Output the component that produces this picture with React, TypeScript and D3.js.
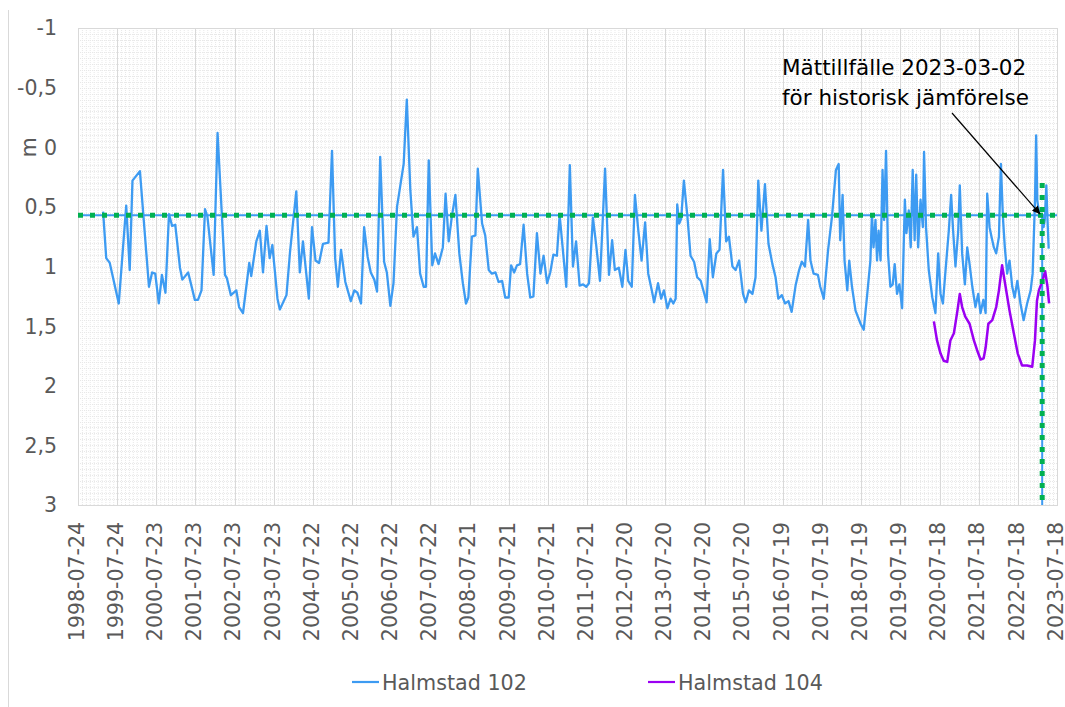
import React, { useEffect, useRef } from "react";
import * as d3 from "d3";

// y axis (metres below reference, reversed)
const yTicks = [-1, -0.5, 0, 0.5, 1, 1.5, 2, 2.5, 3];
const yTickLabels = ["-1", "-0,5", "0", "0,5", "1", "1,5", "2", "2,5", "3"];

// x axis tick dates (365-day steps)
const xTickLabels = [
  "1998-07-24", "1999-07-24", "2000-07-23", "2001-07-23", "2002-07-23",
  "2003-07-23", "2004-07-22", "2005-07-22", "2006-07-22", "2007-07-22",
  "2008-07-21", "2009-07-21", "2010-07-21", "2011-07-21", "2012-07-20",
  "2013-07-20", "2014-07-20", "2015-07-20", "2016-07-19", "2017-07-19",
  "2018-07-19", "2019-07-19", "2020-07-18", "2021-07-18", "2022-07-18",
  "2023-07-18",
];

const seriesNames = ["Halmstad 102", "Halmstad 104"];

// [decimal year, level in m]
const halmstad102: [number, number][] = [
  [1999.2, 0.54], [1999.28, 0.93], [1999.37, 0.97], [1999.6, 1.31], [1999.79, 0.49],
  [1999.88, 1.03], [1999.95, 0.28], [2000.14, 0.2], [2000.37, 1.17], [2000.45, 1.05],
  [2000.53, 1.06], [2000.62, 1.31], [2000.7, 1.07], [2000.79, 1.22], [2000.88, 0.56],
  [2000.96, 0.66], [2001.04, 0.65], [2001.16, 1.01], [2001.22, 1.11], [2001.37, 1.05],
  [2001.54, 1.28], [2001.62, 1.28], [2001.71, 1.2], [2001.8, 0.52], [2001.86, 0.58],
  [2002.02, 1.07], [2002.12, -0.12], [2002.31, 1.07], [2002.36, 1.1], [2002.46, 1.24],
  [2002.6, 1.2], [2002.67, 1.34], [2002.77, 1.39], [2002.93, 0.97], [2002.98, 1.08],
  [2003.11, 0.79], [2003.2, 0.7], [2003.28, 1.05], [2003.37, 0.66], [2003.45, 0.93],
  [2003.52, 0.82], [2003.65, 1.27], [2003.71, 1.36], [2003.88, 1.24], [2003.97, 0.88],
  [2004.13, 0.37], [2004.22, 1.05], [2004.3, 0.79], [2004.45, 1.27], [2004.53, 0.67],
  [2004.62, 0.95], [2004.71, 0.97], [2004.81, 0.81], [2004.95, 0.8],
  [2005.04, 0.03], [2005.12, 0.93], [2005.19, 1.17], [2005.27, 0.86], [2005.38, 1.13],
  [2005.52, 1.29], [2005.61, 1.2], [2005.69, 1.22], [2005.78, 1.31], [2005.86, 0.67],
  [2005.95, 0.92], [2006.03, 1.05], [2006.12, 1.11], [2006.19, 1.21], [2006.27, 0.08],
  [2006.37, 0.96], [2006.44, 1.05], [2006.53, 1.33], [2006.61, 1.14], [2006.7, 0.5],
  [2006.78, 0.33], [2006.87, 0.14], [2006.95, -0.4], [2007.04, 0.36], [2007.12, 0.75],
  [2007.21, 0.67], [2007.29, 1.06], [2007.38, 1.17], [2007.44, 1.17], [2007.51, 0.11],
  [2007.6, 0.99], [2007.67, 0.89], [2007.76, 0.98], [2007.87, 0.84], [2007.94, 0.39],
  [2008.02, 0.79], [2008.1, 0.58], [2008.19, 0.4], [2008.29, 0.89], [2008.38, 1.14],
  [2008.46, 1.31], [2008.52, 1.26], [2008.61, 0.75], [2008.7, 0.74], [2008.76, 0.18],
  [2008.87, 0.64], [2008.95, 0.74], [2009.04, 1.03], [2009.12, 1.06], [2009.21, 1.05],
  [2009.29, 1.13], [2009.38, 1.12], [2009.46, 1.26], [2009.55, 1.26], [2009.61, 0.99],
  [2009.69, 1.05], [2009.76, 0.99], [2009.84, 0.98], [2009.93, 0.65], [2010.02, 1.06],
  [2010.1, 1.26], [2010.18, 1.25], [2010.27, 0.72], [2010.36, 1.06], [2010.44, 0.91],
  [2010.53, 1.14], [2010.61, 1.05], [2010.69, 0.9], [2010.78, 0.91], [2010.85, 0.57],
  [2011.02, 1.17], [2011.11, 0.15], [2011.19, 1.0], [2011.27, 0.79], [2011.36, 1.16],
  [2011.45, 1.15], [2011.53, 1.17], [2011.6, 1.14], [2011.7, 0.59], [2011.78, 0.81],
  [2011.88, 1.12], [2012.01, 0.18], [2012.11, 1.07], [2012.19, 0.78], [2012.26, 1.03],
  [2012.36, 1.01], [2012.45, 1.17], [2012.53, 0.86], [2012.6, 1.12], [2012.69, 1.17],
  [2012.77, 0.4], [2012.86, 0.71], [2012.94, 0.95], [2013.03, 0.63], [2013.11, 1.06],
  [2013.2, 1.2], [2013.26, 1.3], [2013.36, 1.14], [2013.44, 1.27], [2013.51, 1.2],
  [2013.6, 1.35], [2013.68, 1.27], [2013.75, 1.31], [2013.81, 1.27], [2013.85, 0.48],
  [2013.9, 0.64], [2013.95, 0.6], [2014.02, 0.28], [2014.11, 0.58], [2014.19, 0.91],
  [2014.28, 0.96], [2014.36, 1.09], [2014.45, 1.12], [2014.6, 1.3], [2014.68, 0.77],
  [2014.76, 1.09], [2014.85, 0.89], [2014.93, 0.86], [2015.02, 0.19], [2015.1, 0.79],
  [2015.17, 0.75], [2015.26, 1.0], [2015.34, 1.03], [2015.43, 0.95], [2015.53, 1.23],
  [2015.6, 1.3], [2015.68, 1.2], [2015.77, 1.23], [2015.85, 1.09], [2015.92, 0.28],
  [2016.0, 0.7], [2016.09, 0.31], [2016.18, 0.81], [2016.28, 0.98], [2016.36, 1.09],
  [2016.43, 1.27], [2016.52, 1.24], [2016.6, 1.31], [2016.69, 1.29], [2016.77, 1.38],
  [2016.87, 1.16], [2016.96, 1.03], [2017.03, 0.96], [2017.11, 1.0], [2017.19, 0.61],
  [2017.25, 0.95], [2017.33, 1.06], [2017.44, 1.07], [2017.5, 1.17], [2017.59, 1.27],
  [2017.7, 0.86], [2017.8, 0.58], [2017.9, 0.19], [2017.97, 0.14], [2018.01, 0.78],
  [2018.07, 0.4], [2018.12, 0.95], [2018.19, 1.2], [2018.24, 0.95], [2018.31, 1.17],
  [2018.4, 1.37], [2018.53, 1.48], [2018.61, 1.53], [2018.7, 1.23], [2018.78, 0.95],
  [2018.82, 0.56], [2018.86, 0.84], [2018.91, 0.61], [2018.95, 0.95], [2018.99, 0.7],
  [2019.04, 0.95], [2019.09, 0.19], [2019.13, 0.61], [2019.18, 0.03], [2019.23, 0.89],
  [2019.29, 1.17], [2019.35, 1.15], [2019.4, 0.98], [2019.46, 1.23], [2019.52, 1.15],
  [2019.59, 1.35], [2019.66, 0.44], [2019.7, 0.72], [2019.76, 0.53], [2019.81, 0.84],
  [2019.86, 0.19], [2019.91, 0.78], [2019.95, 0.23], [2020.0, 0.84], [2020.06, 0.44],
  [2020.12, 0.67], [2020.15, 0.04], [2020.2, 0.67], [2020.27, 1.03], [2020.36, 1.26],
  [2020.44, 1.39], [2020.51, 0.89], [2020.57, 1.23], [2020.63, 1.31], [2020.69, 1.06],
  [2020.78, 0.7], [2020.84, 0.4], [2020.89, 0.7], [2020.95, 1.0], [2021.02, 0.7],
  [2021.06, 0.32], [2021.12, 0.89], [2021.19, 1.15], [2021.25, 0.84], [2021.31, 0.98],
  [2021.38, 1.17], [2021.46, 1.34], [2021.53, 1.23], [2021.59, 1.39], [2021.66, 1.28],
  [2021.72, 1.39], [2021.76, 0.39], [2021.82, 0.67], [2021.87, 0.75], [2021.93, 0.84],
  [2021.99, 0.89], [2022.06, 0.75], [2022.11, 0.14], [2022.16, 0.58], [2022.21, 0.84],
  [2022.27, 1.06], [2022.33, 0.95], [2022.4, 1.17], [2022.46, 1.26], [2022.53, 1.12],
  [2022.61, 1.31], [2022.69, 1.45], [2022.78, 1.31], [2022.87, 1.2], [2022.92, 1.06],
  [2022.98, 0.45], [2023.01, -0.1], [2023.04, 0.45], [2023.1, 0.58], [2023.17, 0.57],
  [2023.2, 0.67], [2023.23, 0.61], [2023.27, 0.32], [2023.3, 0.61], [2023.33, 0.85],
];

const halmstad104: [number, number][] = [
  [2020.4, 1.46], [2020.48, 1.62], [2020.57, 1.73], [2020.65, 1.79], [2020.74, 1.8],
  [2020.82, 1.62], [2020.91, 1.56], [2021.0, 1.37], [2021.06, 1.23], [2021.12, 1.34],
  [2021.2, 1.42], [2021.31, 1.48], [2021.42, 1.62], [2021.5, 1.7], [2021.59, 1.78],
  [2021.67, 1.77], [2021.72, 1.68], [2021.79, 1.48], [2021.89, 1.45], [2021.99, 1.34],
  [2022.06, 1.2], [2022.14, 0.99], [2022.23, 1.17], [2022.33, 1.37], [2022.44, 1.56],
  [2022.54, 1.73], [2022.65, 1.83], [2022.78, 1.83], [2022.91, 1.84], [2022.98, 1.62],
  [2023.03, 1.29], [2023.08, 1.2], [2023.17, 1.12], [2023.24, 1.04], [2023.3, 1.17],
  [2023.34, 1.31],
];

// measurement occasion for historical comparison
const measureDate = "2023-03-02";
const measureLevel = 0.57;
const measureMarkerTop = 0.3;
const annotationLines = ["Mättillfälle 2023-03-02", "för historisk jämförelse"];

const W = 1065;
const H = 707;
const plot = { left: 78, right: 1057, top: 28, bottom: 505 };
const FONT = "'DejaVu Sans', Verdana, sans-serif";
const BLUE = "#3d9bf2";
const PURPLE = "#9b00f2";
const GREEN = "#00b050";

function decYear(d: number) {
  const yr = Math.floor(d);
  const a = Date.UTC(yr, 0, 1);
  const b = Date.UTC(yr + 1, 0, 1);
  return new Date(a + (d - yr) * (b - a));
}

export default function App() {
  const ref = useRef<SVGSVGElement>(null);

  useEffect(() => {
    const svg = d3.select(ref.current);
    svg.selectAll("*").remove();
    const parse = d3.utcParse("%Y-%m-%d");
    const t0 = parse(xTickLabels[0]) as Date;
    const t1 = parse(xTickLabels[xTickLabels.length - 1]) as Date;

    const x = d3.scaleUtc().domain([t0, t1]).range([plot.left, plot.right]);
    const y = d3.scaleLinear().domain([-1, 3]).range([plot.top, plot.bottom]);

    svg.append("rect").attr("width", W).attr("height", H).attr("fill", "#fff");
    // outer chart edge
    svg.append("line").attr("x1", 8.5).attr("x2", 8.5).attr("y1", 10).attr("y2", H)
      .attr("stroke", "#d9d9d9");

    // minor grid
    const g = svg.append("g");
    const dayMs = 864e5;
    const minorX = d3.range(0, 251).map((i) => new Date(t0.getTime() + i * 36.5 * dayMs));
    g.selectAll("line.mx").data(minorX).enter().append("line")
      .attr("x1", (d) => x(d) + 0.5).attr("x2", (d) => x(d) + 0.5)
      .attr("y1", plot.top).attr("y2", plot.bottom)
      .attr("stroke", "#e8e8e8").attr("stroke-dasharray", "1 1");
    const minorY = d3.range(0, 81).map((i) => -1 + i * 0.05);
    g.selectAll("line.my").data(minorY).enter().append("line")
      .attr("x1", plot.left).attr("x2", plot.right)
      .attr("y1", (d) => Math.round(y(d)) + 0.5).attr("y2", (d) => Math.round(y(d)) + 0.5)
      .attr("stroke", "#e8e8e8").attr("stroke-dasharray", "1 1");
    // major vertical grid
    g.selectAll("line.vx").data(xTickLabels).enter().append("line")
      .attr("x1", (d) => Math.round(x(parse(d) as Date)) + 0.5)
      .attr("x2", (d) => Math.round(x(parse(d) as Date)) + 0.5)
      .attr("y1", plot.top).attr("y2", plot.bottom)
      .attr("stroke", "#d9d9d9");
    g.append("rect")
      .attr("x", plot.left + 0.5).attr("y", plot.top + 0.5)
      .attr("width", plot.right - plot.left).attr("height", plot.bottom - plot.top)
      .attr("fill", "none").attr("stroke", "#d9d9d9");

    // y ticks
    svg.append("g").selectAll("text").data(yTicks).enter().append("text")
      .attr("x", 57).attr("y", (d) => y(d)).attr("dy", "0.36em")
      .attr("text-anchor", "end").attr("font-family", FONT).attr("font-size", 20.5)
      .attr("fill", "#595959").text((d, i) => yTickLabels[i]);
    svg.append("text")
      .attr("transform", `translate(${29},${y(0)}) rotate(-90)`)
      .attr("text-anchor", "middle").attr("dy", "0.35em")
      .attr("font-family", FONT).attr("font-size", 20.5).attr("fill", "#595959")
      .text("m");

    // x ticks
    svg.append("g").selectAll("text").data(xTickLabels).enter().append("text")
      .attr("transform", (d) => `translate(${x(parse(d) as Date)},${plot.bottom + 17}) rotate(-90)`)
      .attr("text-anchor", "end").attr("dy", "0.28em")
      .attr("font-family", FONT).attr("font-size", 20.5).attr("fill", "#595959")
      .text((d) => d);

    const mDate = parse(measureDate) as Date;
    // measurement reference lines (blue base)
    svg.append("line")
      .attr("x1", plot.left).attr("x2", plot.right)
      .attr("y1", y(measureLevel)).attr("y2", y(measureLevel))
      .attr("stroke", BLUE).attr("stroke-width", 2);
    svg.append("line")
      .attr("x1", x(mDate)).attr("x2", x(mDate))
      .attr("y1", y(measureLevel)).attr("y2", plot.bottom)
      .attr("stroke", BLUE).attr("stroke-width", 2);

    const line = d3.line<[number, number]>()
      .x((d) => x(decYear(d[0])))
      .y((d) => y(d[1]));

    svg.append("path").datum(halmstad102).attr("d", line)
      .attr("fill", "none").attr("stroke", BLUE).attr("stroke-width", 2.3)
      .attr("stroke-linejoin", "round");
    svg.append("path").datum(halmstad104).attr("d", line)
      .attr("fill", "none").attr("stroke", PURPLE).attr("stroke-width", 2.5)
      .attr("stroke-linejoin", "round");

    // green dotted markers
    svg.append("line")
      .attr("x1", plot.left).attr("x2", plot.right + 4)
      .attr("y1", y(measureLevel)).attr("y2", y(measureLevel))
      .attr("stroke", GREEN).attr("stroke-width", 5).attr("stroke-dasharray", "5 7");
    svg.append("line")
      .attr("x1", x(mDate)).attr("x2", x(mDate))
      .attr("y1", y(measureMarkerTop)).attr("y2", plot.bottom)
      .attr("stroke", GREEN).attr("stroke-width", 5).attr("stroke-dasharray", "5 7");

    // annotation
    const defs = svg.append("defs");
    defs.append("marker").attr("id", "arrow").attr("viewBox", "0 0 10 10")
      .attr("refX", 10).attr("refY", 5).attr("markerWidth", 11).attr("markerHeight", 8)
      .attr("markerUnits", "userSpaceOnUse").attr("orient", "auto")
      .append("path").attr("d", "M0,0 L10,5 L0,10 z").attr("fill", "#000");
    svg.append("line")
      .attr("x1", 952).attr("y1", 113)
      .attr("x2", x(mDate) - 2).attr("y2", y(measureLevel) - 1)
      .attr("stroke", "#000").attr("stroke-width", 1.2).attr("marker-end", "url(#arrow)");
    svg.append("g").selectAll("text").data(annotationLines).enter().append("text")
      .attr("x", 782).attr("y", (d, i) => 75 + i * 30)
      .attr("font-family", FONT).attr("font-size", 21.5).attr("fill", "#000")
      .text((d) => d);

    // legend
    const legend = svg.append("g");
    const items = [
      { name: seriesNames[0], color: BLUE, x0: 352 },
      { name: seriesNames[1], color: PURPLE, x0: 648 },
    ];
    items.forEach((it) => {
      legend.append("line").attr("x1", it.x0).attr("x2", it.x0 + 27)
        .attr("y1", 682).attr("y2", 682).attr("stroke", it.color).attr("stroke-width", 2.2);
      legend.append("text").attr("x", it.x0 + 30).attr("y", 690)
        .attr("font-family", FONT).attr("font-size", 20.7).attr("fill", "#595959")
        .text(it.name);
    });
  }, []);

  return (
    <svg
      ref={ref}
      width={W}
      height={H}
      style={{ position: "absolute", left: 0, top: 0 }}
    />
  );
}
